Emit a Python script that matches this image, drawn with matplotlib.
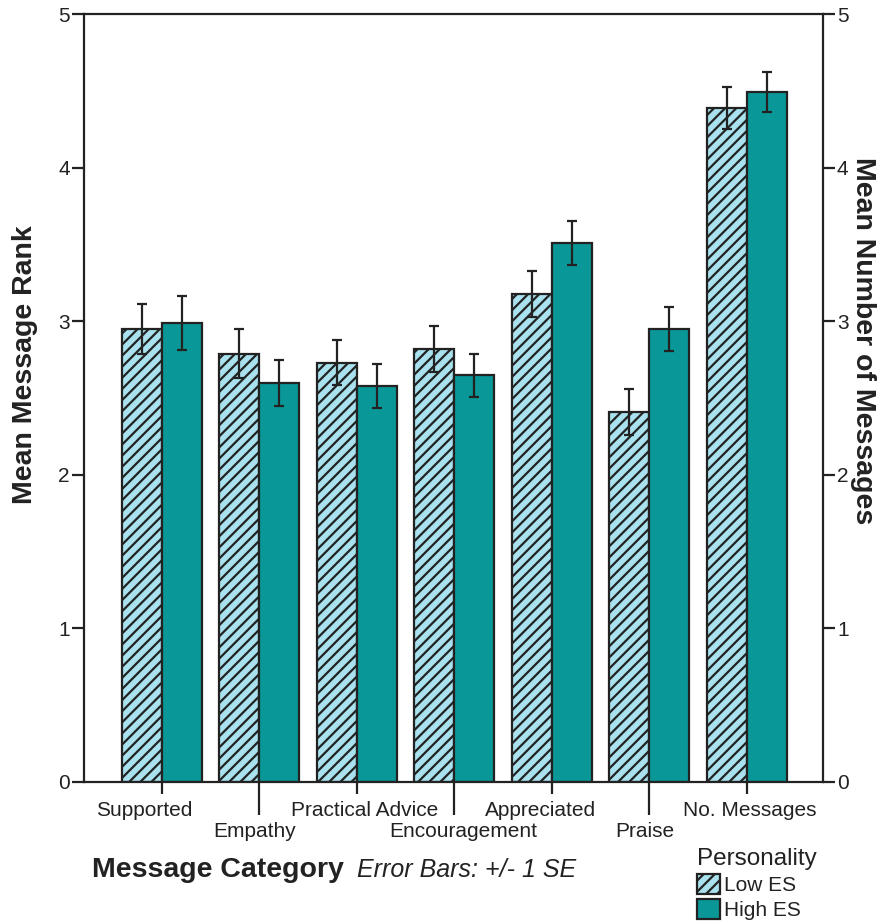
import matplotlib.pyplot as plt
import matplotlib.patches as mpatches
import matplotlib.transforms as mtransforms
import numpy as np

# Data
categories = ["Supported", "Empathy", "Practical Advice", "Encouragement",
              "Appreciated", "Praise", "No. Messages"]
low_es = [2.95, 2.79, 2.73, 2.82, 3.18, 2.41, 4.39]
low_se = [0.16, 0.16, 0.145, 0.15, 0.15, 0.15, 0.135]
high_es = [2.99, 2.60, 2.58, 2.65, 3.51, 2.95, 4.49]
high_se = [0.175, 0.15, 0.145, 0.14, 0.145, 0.145, 0.13]

low_color = "#a9e1ee"
high_color = "#0a9797"
edge = "#222222"

plt.rcParams["font.family"] = ["Liberation Sans", "DejaVu Sans"]
plt.rcParams["hatch.linewidth"] = 1.6
plt.rcParams["hatch.color"] = edge

fig = plt.figure(figsize=(8.86, 9.24), dpi=100)
ax = fig.add_axes([0.0948, 0.1537, 0.834, 0.831])

x = np.arange(len(categories))
w = 0.41
ax.bar(x - w / 2, low_es, w, color=low_color, edgecolor=edge, hatch="///",
       linewidth=1.6, zorder=2)
ax.bar(x + w / 2, high_es, w, color=high_color, edgecolor=edge,
       linewidth=1.6, zorder=2)
ax.errorbar(x - w / 2, low_es, yerr=low_se, fmt="none", ecolor=edge,
            elinewidth=1.6, capsize=3.8, capthick=1.6, zorder=3)
ax.errorbar(x + w / 2, high_es, yerr=high_se, fmt="none", ecolor=edge,
            elinewidth=1.6, capsize=3.8, capthick=1.6, zorder=3)

ax.set_xlim(-0.8, 6.78)
ax.set_ylim(0, 5)

for s in ax.spines.values():
    s.set_color(edge)
    s.set_linewidth(1.6)

# staggered category labels: even ones on major ticks, odd ones on minor ticks
ax.set_xticks(x[::2], [categories[i] for i in x[::2]])
ax.set_xticks(x[1::2], [categories[i] for i in x[1::2]], minor=True)
ax.tick_params(axis="x", which="major", length=8.6, width=1.6, color=edge,
               labelsize=15, pad=5, labelcolor="#222222")
ax.tick_params(axis="x", which="minor", length=23.8, width=1.6, color=edge,
               labelsize=15, pad=5, labelcolor="#222222")

# the original labels are not quite centred on their ticks (pixel nudges)
nudges = {"Supported": -18, "Empathy": -5, "Practical Advice": 8,
          "Encouragement": 9, "Appreciated": -11, "Praise": -5,
          "No. Messages": 3}
for lab in ax.get_xticklabels() + ax.get_xticklabels(minor=True):
    dx = nudges.get(lab.get_text(), 0)
    lab.set_transform(lab.get_transform() +
                      mtransforms.ScaledTranslation(dx / 100, 0, fig.dpi_scale_trans))

ax.set_yticks(range(6))
ax.tick_params(axis="y", length=8.6, width=1.6, color=edge,
               labelsize=15, pad=1.5, labelcolor="#222222")

ax.set_ylabel("Mean Message Rank", fontsize=20.5, fontweight="bold",
              color="#222222")
ax.yaxis.set_label_coords(-0.062, 0.543)

ax2 = ax.twinx()
ax2.set_ylim(0, 5)
ax2.set_yticks(range(6))
ax2.tick_params(axis="y", length=8.6, width=1.6, color=edge,
                labelsize=15, pad=1.5, labelcolor="#222222")
ax2.set_ylabel("Mean Number of Messages", fontsize=20.5, fontweight="bold",
               rotation=-90, va="center", color="#222222")
ax2.yaxis.set_label_coords(1.054, 0.575)
for s in ax2.spines.values():
    s.set_visible(False)

fig.text(0.104, 0.058, "Message Category", fontsize=20.5, fontweight="bold",
         va="center", color="#222222")
fig.text(0.403, 0.058, "Error Bars: +/- 1 SE", fontsize=18, style="italic",
         va="center", color="#222222")

handles = [mpatches.Patch(facecolor=low_color, edgecolor=edge, hatch="///",
                          linewidth=1.6, label="Low ES"),
           mpatches.Patch(facecolor=high_color, edgecolor=edge,
                          linewidth=1.6, label="High ES")]
leg = fig.legend(handles=handles, title="Personality", loc="lower left",
                 bbox_to_anchor=(0.768, -0.014), frameon=False, fontsize=15,
                 title_fontsize=17.5, handlelength=1.1, handleheight=1.1,
                 handletextpad=0.2, labelspacing=0.2, borderpad=0.3)
leg._legend_box.align = "left"
for t in leg.get_texts():
    t.set_color("#222222")
leg.get_title().set_color("#222222")

fig.savefig("out.png", dpi=100)
